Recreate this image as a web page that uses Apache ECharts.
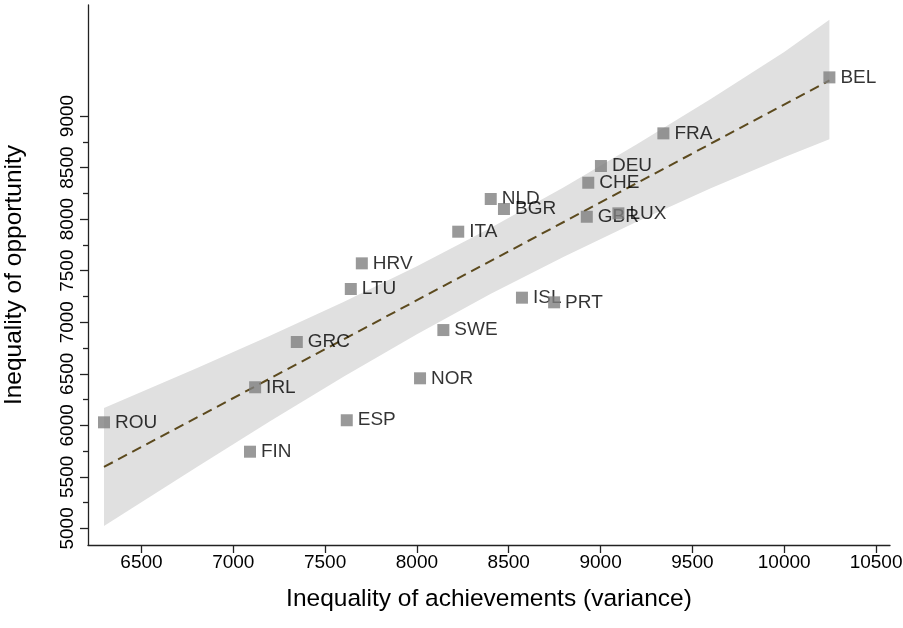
<!DOCTYPE html>
<html>
<head>
<meta charset="utf-8">
<script src="https://cdn.jsdelivr.net/npm/echarts@6/dist/echarts.min.js"></script>
<style>html,body{margin:0;padding:0;background:#fff;}#c{width:903px;height:628px;}</style>
</head>
<body>
<div id="c"></div>
<script>
// Countries and values
var countries = ['ROU','FIN','IRL','ESP','GRC','LTU','HRV','NOR','SWE','ITA','NLD','BGR','ISL','PRT','GBR','CHE','DEU','LUX','FRA','BEL'];
var achievements = [6296,7091,7119,7618,7346,7640,7700,8017,8144,8225,8402,8474,8572,8747,8925,8933,9002,9097,9342,10246];
var opportunity = [6029,5744,6369,6049,6808,7322,7571,6456,6924,7878,8195,8098,7238,7193,8023,8353,8515,8056,8832,9375];

// Fitted line end points
var fitX = [6296, 10246];
var fitY = [5596, 9345];

// Confidence band read at several x positions
var bandX = [6296, 6800, 7200, 7600, 8000, 8400, 8800, 9200, 9600, 10000, 10246];
var bandUpper = [6168, 6554, 6869, 7196, 7543, 7913, 8309, 8728, 9165, 9621, 9935];
var bandLower = [5024, 5594, 6039, 6470, 6883, 7273, 7635, 7976, 8299, 8601, 8775];

// Tick values
var xTicks = [6500, 7000, 7500, 8000, 8500, 9000, 9500, 10000, 10500];
var yMajorTicks = [5000, 5500, 6000, 6500, 7000, 7500, 8000, 8500, 9000];
var yMinorTicks = [5250, 5750, 6250, 6750, 7250, 7750, 8250, 8750];

var FONT = '"Liberation Sans", Arial, Helvetica, sans-serif';

var points = countries.map(function (c, i) { return { name: c, value: [achievements[i], opportunity[i]] }; });
var fitData = fitX.map(function (x, i) { return [x, fitY[i]]; });
function plain(v) { return String(Math.round(v)); }

var chart = echarts.init(document.getElementById('c'), null, { renderer: 'canvas' });

var xMin = 6209, xMax = 10576, yMin = 4839, yMax = 10077;

chart.setOption({
  animation: false,
  backgroundColor: '#ffffff',
  grid: { left: 88, right: 13, top: 5, bottom: 83, containLabel: false, outerBoundsMode: 'none' },
  xAxis: {
    type: 'value', min: xMin, max: xMax,
    name: 'Inequality of achievements (variance)',
    nameLocation: 'middle', nameGap: 42,
    nameTextStyle: { fontFamily: FONT, fontSize: 24.5, color: '#000' },
    axisLine: { show: true, lineStyle: { color: '#222', width: 1.3 } },
    axisTick: { show: true, customValues: xTicks, length: 8, lineStyle: { color: '#222', width: 1.3 } },
    axisLabel: { customValues: xTicks, formatter: plain, fontFamily: FONT, fontSize: 19, color: '#000', margin: 8 },
    splitLine: { show: false }
  },
  yAxis: [{
    type: 'value', min: yMin, max: yMax,
    name: 'Inequality of opportunity',
    nameLocation: 'middle', nameGap: 61, nameRotate: 90,
    nameTextStyle: { fontFamily: FONT, fontSize: 24.5, color: '#000' },
    axisLine: { show: true, lineStyle: { color: '#222', width: 1.3 } },
    axisTick: { show: true, customValues: yMajorTicks, length: 8, lineStyle: { color: '#222', width: 1.3 } },
    axisLabel: { customValues: yMajorTicks, formatter: plain, rotate: 90, fontFamily: FONT, fontSize: 19, color: '#000', margin: 11 },
    splitLine: { show: false }
  }, {
    type: 'value', min: yMin, max: yMax, position: 'left',
    axisLine: { show: false },
    axisTick: { show: true, customValues: yMinorTicks, length: 5, lineStyle: { color: '#222', width: 1.3 } },
    axisLabel: { show: false },
    splitLine: { show: false }
  }],
  series: [
    {
      type: 'custom', z: 1, silent: true,
      data: [[bandX[0], bandLower[0]]],
      renderItem: function (params, api) {
        var pts = [];
        for (var i = 0; i < bandX.length; i++) pts.push(api.coord([bandX[i], bandUpper[i]]));
        for (var j = bandX.length - 1; j >= 0; j--) pts.push(api.coord([bandX[j], bandLower[j]]));
        return { type: 'polygon', shape: { points: pts }, style: { fill: '#e0e0e0', stroke: null } };
      }
    },
    {
      type: 'line', z: 2, data: fitData, symbol: 'none', silent: true,
      lineStyle: { color: '#5c4a1e', width: 2, type: [10, 6] }
    },
    {
      type: 'scatter', z: 3, data: points, symbol: 'rect', symbolSize: 12,
      itemStyle: { color: 'rgba(0,0,0,0)' },
      label: {
        show: true, position: 'right', distance: 5,
        formatter: function (p) { return p.name; },
        fontFamily: FONT, fontSize: 19, color: '#000'
      }
    },
    {
      type: 'scatter', z: 4, data: points, symbol: 'rect', symbolSize: 12,
      itemStyle: { color: '#808080' },
      label: { show: false }
    }
  ]
});
</script>
</body>
</html>
